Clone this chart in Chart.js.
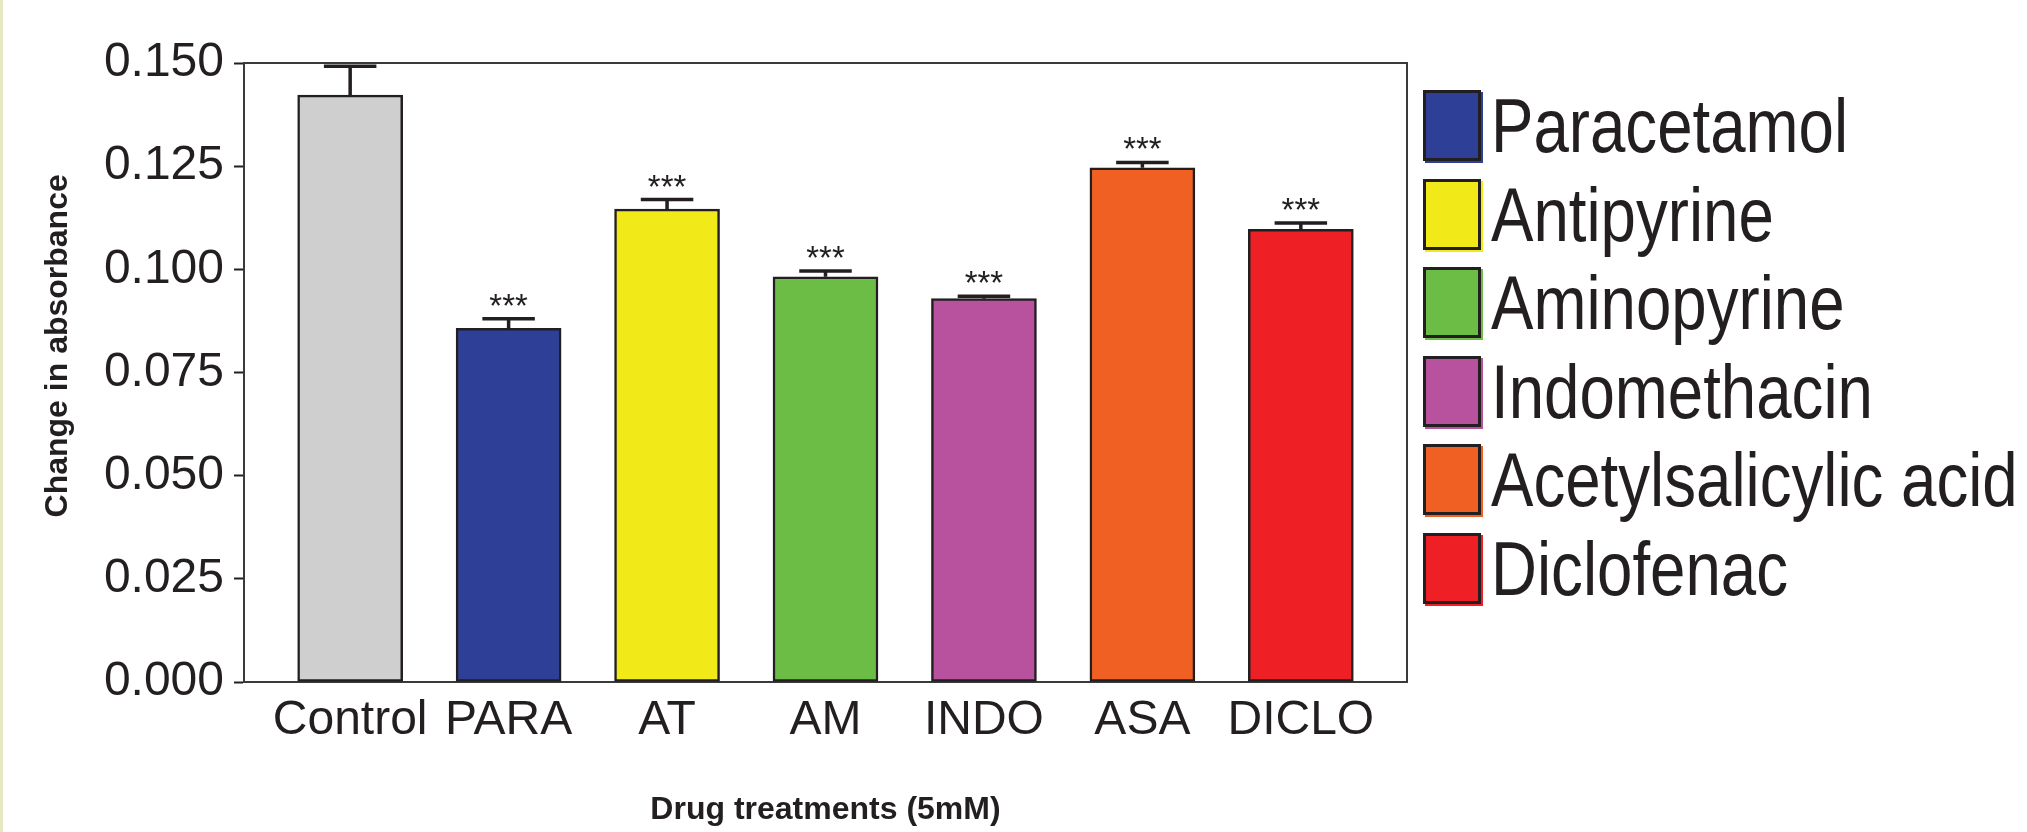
<!DOCTYPE html>
<html>
<head>
<meta charset="utf-8">
<script src="https://cdn.jsdelivr.net/npm/chart.js@4/dist/chart.umd.min.js"></script>
<style>
  body { margin: 0; background: #fff; }
  #wrap { position: relative; width: 2027px; height: 832px; overflow: hidden; }
  #stripe { position: absolute; left: 0; top: 0; width: 3px; height: 832px; background: #e5e8c2; }
  .box { position: absolute; left: 1423px; width: 58px; height: 71px; border: 3px solid #231f20; box-sizing: border-box; }
  .lbl { position: absolute; left: 1491px; height: 71px; line-height: 71px; font-size: 76px;
         font-family: "Liberation Sans", Arial, sans-serif; color: #231f20; white-space: nowrap;
         transform: scaleX(0.837); transform-origin: left center; }
</style>
</head>
<body>
<div id="wrap">
  <canvas id="absChart"></canvas>
  <div id="stripe"></div>
  <div id="legend"></div>
</div>
<script>
// DATA
const categories = ["Control", "PARA", "AT", "AM", "INDO", "ASA", "DICLO"];
const drugNames = ["Paracetamol", "Antipyrine", "Aminopyrine", "Indomethacin", "Acetylsalicylic acid", "Diclofenac"];
const means = [0.1422, 0.0857, 0.1146, 0.0982, 0.0929, 0.1246, 0.1097];
const sem = [0.0070, 0.0023, 0.0023, 0.0014, 0.0006, 0.0013, 0.0015];
const stars = ["", "***", "***", "***", "***", "***", "***"];
const barColors = ["#cfcfcf", "#2e3f97", "#f2ea18", "#6cbd45", "#b8529e", "#f06022", "#ee1f25"];
const yTicks = [0, 0.025, 0.05, 0.075, 0.1, 0.125, 0.15];

const ink = "#231f20";
Chart.defaults.font.family = '"Liberation Sans", Arial, Helvetica, sans-serif';
Chart.defaults.color = ink;

// plot frame (top + right edges)
const framePlugin = {
  id: "frame",
  beforeDatasetsDraw(chart) {
    const a = chart.chartArea, ctx = chart.ctx;
    ctx.save();
    ctx.strokeStyle = "#3a3a3a";
    ctx.lineWidth = 2;
    ctx.strokeRect(a.left, a.top, a.right - a.left, a.bottom - a.top);
    ctx.restore();
  }
};

// SEM bars + significance stars
const errorPlugin = {
  id: "errorBars",
  afterDatasetsDraw(chart) {
    const ctx = chart.ctx;
    const y = chart.scales.y;
    chart.getDatasetMeta(0).data.forEach((bar, i) => {
      const top = y.getPixelForValue(means[i] + sem[i]);
      const half = bar.width / 4;
      ctx.save();
      ctx.strokeStyle = ink;
      ctx.lineWidth = 3.5;
      ctx.beginPath();
      ctx.moveTo(bar.x, bar.y);
      ctx.lineTo(bar.x, top);
      ctx.moveTo(bar.x - half, top);
      ctx.lineTo(bar.x + half, top);
      ctx.stroke();
      if (stars[i]) {
        ctx.fillStyle = ink;
        ctx.font = '33px "Liberation Sans", Arial, sans-serif';
        ctx.textAlign = "center";
        ctx.textBaseline = "alphabetic";
        ctx.fillText(stars[i], bar.x, top - 2);
      }
      ctx.restore();
    });
  }
};

new Chart(document.getElementById("absChart"), {
  type: "bar",
  data: {
    datasets: [{
      data: means.map((v, i) => ({ x: i, y: v })),
      backgroundColor: barColors,
      borderColor: ink,
      borderWidth: 2.5,
      borderSkipped: false,
      barThickness: 105
    }]
  },
  options: {
    responsive: true,
    maintainAspectRatio: false,
    animation: false,
    layout: { padding: { left: 0, right: 620, top: 63, bottom: 0 } },
    plugins: { legend: { display: false }, tooltip: { enabled: false } },
    scales: {
      x: {
        type: "linear",
        offset: false,
        min: -0.67,
        max: 6.67,
        afterBuildTicks: s => { s.ticks = categories.map((c, i) => ({ value: i })); },
        afterFit: s => { s.height = 150; },
        grid: { display: false, drawTicks: false, offset: false },
        border: { color: ink, width: 2 },
        ticks: {
          autoSkip: false, maxRotation: 0, minRotation: 0, padding: 10,
          font: { size: 48 }, color: ink,
          callback: v => categories[v]
        },
        title: {
          display: true, text: "Drug treatments (5mM)",
          font: { size: 32, weight: "bold" }, color: ink,
          padding: { top: 0, bottom: 3 }
        }
      },
      y: {
        min: 0,
        max: 0.15,
        afterBuildTicks: s => { s.ticks = yTicks.map(v => ({ value: v })); },
        afterFit: s => { s.width = 244; },
        grid: { drawOnChartArea: false, tickLength: 10, tickWidth: 2, tickColor: ink },
        border: { color: ink, width: 2 },
        ticks: {
          padding: 10, font: { size: 48 }, color: ink,
          callback: v => v.toFixed(3)
        },
        title: {
          display: true,
          // leading spaces push the label up a little, as in the original figure
          text: "      Change in absorbance",
          font: { size: 32, weight: "bold" }, color: ink,
          padding: { top: 39, bottom: 0 }
        }
      }
    }
  },
  plugins: [framePlugin, errorPlugin]
});

// LEGEND (drug colours)
const legend = document.getElementById("legend");
drugNames.forEach((name, i) => {
  const top = 90 + i * 88.6;
  const col = barColors[i + 1];
  const box = document.createElement("div");
  box.className = "box";
  box.style.top = top + "px";
  box.style.background = col;
  box.style.boxShadow = "2px 2px 0 " + col;
  const lbl = document.createElement("div");
  lbl.className = "lbl";
  lbl.style.top = top + "px";
  lbl.textContent = name;
  legend.appendChild(box);
  legend.appendChild(lbl);
});
</script>
</body>
</html>
